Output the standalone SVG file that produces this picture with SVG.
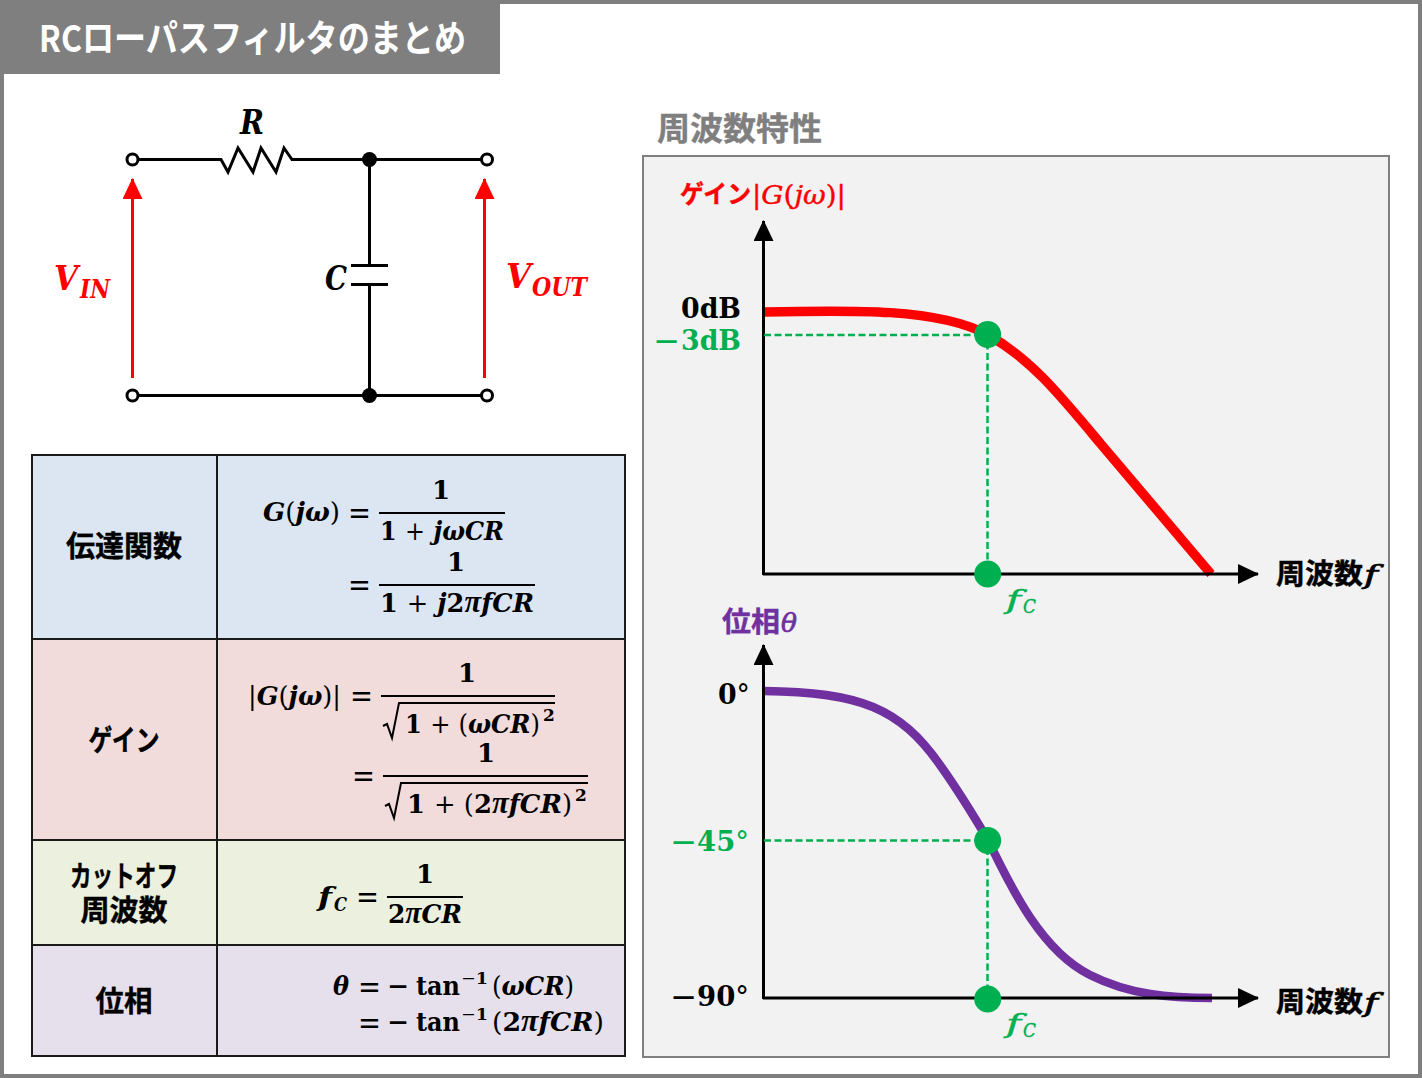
<svg xmlns="http://www.w3.org/2000/svg" width="1422" height="1078" viewBox="0 0 1422 1078">
<style>
.j{font-family:"Noto Sans CJK JP","Noto Sans",sans-serif;font-weight:700}
.h{stroke-width:.4px}
.m{font-family:"DejaVu Serif","Liberation Serif",serif;font-weight:700;font-size:26px}
.p{font-family:"Liberation Serif",serif;font-style:italic;font-size:31px}
.i{font-style:italic}
.o{font-weight:400}
.e{font-weight:400;font-size:31px}
.n{font-weight:400;font-size:36px}
.s{font-weight:400;font-style:italic;stroke-width:.4px}
.s2{font-weight:400;font-style:italic;stroke-width:.7px}
.w{stroke:#000;stroke-width:3;fill:none}
.t{stroke:#000;stroke-width:2;fill:none}
.g{stroke:#00b050;stroke-width:2.500;fill:none;stroke-dasharray:7 3.500}
.ax{stroke:#000;stroke-width:3;fill:none;marker-end:url(#ah)}
.ra{stroke:#f00;stroke-width:3;fill:none;marker-end:url(#ar)}
.c{font-family:"Noto Sans CJK JP",sans-serif;font-weight:700;font-size:29px;text-anchor:middle;stroke:#000;stroke-width:.4px}
.red{fill:#f00}.grn{fill:#00b050}.pur{fill:#7030a0}
</style>
<defs>
<marker id="ah" markerUnits="userSpaceOnUse" markerWidth="22" markerHeight="20" refX="20" refY="10" orient="auto"><path d="M0 0L21 10L0 20Z" fill="#000"/></marker>
<marker id="ar" markerUnits="userSpaceOnUse" markerWidth="22" markerHeight="20" refX="20" refY="10" orient="auto"><path d="M0 0L21 10L0 20Z" fill="#f00"/></marker>
</defs>
<rect width="1422" height="1078" fill="#fff"/>
<rect x="2" y="2" width="1418" height="1074" fill="#fff" stroke="#7f7f7f" stroke-width="4"/>
<g id="title"><rect x="0" y="0" width="500" height="74" fill="#7f7f7f"/>
<text class="j" x="39" y="52" font-size="37" fill="#fff" textLength="427" lengthAdjust="spacingAndGlyphs">RCローパスフィルタのまとめ</text></g>

<g id="circuit-wires">
<path class="w" d="M137 159.500H221L228 172L238 148L253 172L261 148L276 172L284 148L292 159.500H482M369.500 159.500V265.500M351 265.500H388M351 284.500H388M369.500 284.500V395.500M137 395.500H482"/>
<path class="ra" d="M132.500 378V179"/>
<path class="ra" d="M484.500 378V179"/>
</g>
<g id="n-t1"><circle cx="132.500" cy="159.500" r="5.500" fill="#fff" stroke="#000" stroke-width="3"/></g>
<g id="n-t2"><circle cx="487" cy="159.500" r="5.500" fill="#fff" stroke="#000" stroke-width="3"/></g>
<g id="n-t3"><circle cx="132.500" cy="395.500" r="5.500" fill="#fff" stroke="#000" stroke-width="3"/></g>
<g id="n-t4"><circle cx="487" cy="395.500" r="5.500" fill="#fff" stroke="#000" stroke-width="3"/></g>
<g id="n-j1"><circle cx="369.500" cy="159.500" r="7.500"/></g>
<g id="n-j2"><circle cx="369.500" cy="395.500" r="7.500"/></g>
<g id="circuit-labels">
<text class="m i" x="240" y="134" style="font-size:34px" textLength="24" lengthAdjust="spacingAndGlyphs">R</text>
<text class="m i" x="325" y="290" style="font-size:34px" textLength="22" lengthAdjust="spacingAndGlyphs">C</text>
<text class="m i red" x="54" y="290" style="font-size:34px" textLength="24" lengthAdjust="spacingAndGlyphs">V</text>
<text class="m i red" x="80" y="298" textLength="30" lengthAdjust="spacingAndGlyphs">IN</text>
<text class="m i red" x="506" y="288" style="font-size:34px" textLength="25" lengthAdjust="spacingAndGlyphs">V</text>
<text class="m i red" x="532" y="296" textLength="55" lengthAdjust="spacingAndGlyphs">OUT</text>
</g>

<g id="table">
<rect x="32" y="455" width="593" height="184" fill="#dce6f2"/>
<rect x="32" y="639" width="593" height="201" fill="#f2dcdb"/>
<rect x="32" y="840" width="593" height="105" fill="#ebf1de"/>
<rect x="32" y="945" width="593" height="111" fill="#e6e0ec"/>
<path d="M32 455H625V1056H32ZM217 455V1056M32 639H625M32 840H625M32 945H625" fill="none" stroke="#1a1a1a" stroke-width="2"/>
<text class="c" x="124" y="557" textLength="116" lengthAdjust="spacingAndGlyphs">伝達関数</text>
<text class="c" x="124" y="751" textLength="71" lengthAdjust="spacingAndGlyphs">ゲイン</text>
<text class="c" x="124" y="887" textLength="108" lengthAdjust="spacingAndGlyphs">カットオフ</text>
<text class="c" x="124" y="921" textLength="87" lengthAdjust="spacingAndGlyphs">周波数</text>
<text class="c" x="124" y="1012" textLength="57" lengthAdjust="spacingAndGlyphs">位相</text>
</g>
<g id="eq-transfer">
<text class="m" x="263" y="521" textLength="77" lengthAdjust="spacingAndGlyphs"><tspan class="i">G</tspan><tspan class="o">(</tspan><tspan class="i">jω</tspan><tspan class="o">)</tspan></text>
<text class="m e" x="348" y="524" textLength="23" lengthAdjust="spacingAndGlyphs">=</text>
<text class="m" x="441" y="499" text-anchor="middle">1</text>
<path class="t" d="M379 513H505M379 585H535M381 696H555M383 776H588M387 897H463"/>
<text class="m" x="380" y="540" textLength="124" lengthAdjust="spacingAndGlyphs">1 <tspan class="o">+</tspan> <tspan class="i">jωCR</tspan></text>
<text class="m e" x="348" y="596" textLength="23" lengthAdjust="spacingAndGlyphs">=</text>
<text class="m" x="456" y="571" text-anchor="middle">1</text>
<text class="m" x="380" y="612" textLength="154" lengthAdjust="spacingAndGlyphs">1 <tspan class="o">+</tspan> <tspan class="i">j</tspan>2<tspan class="p">π</tspan><tspan class="i">fCR</tspan></text>
</g>
<g id="eq-gain">
<text class="m" x="248" y="705" textLength="93" lengthAdjust="spacingAndGlyphs"><tspan class="o">|</tspan><tspan class="i">G</tspan><tspan class="o">(</tspan><tspan class="i">jω</tspan><tspan class="o">)|</tspan></text>
<text class="m e" x="350" y="707" textLength="23" lengthAdjust="spacingAndGlyphs">=</text>
<text class="m" x="467" y="682" text-anchor="middle">1</text>
<path class="t" d="M383 726L387 724L392 738L399 703H555"/>
<text class="m" x="405" y="733" textLength="135" lengthAdjust="spacingAndGlyphs">1 <tspan class="o">+ (</tspan><tspan class="i">ωCR</tspan><tspan class="o">)</tspan></text>
<text class="m" x="543" y="721" style="font-size:17px">2</text>
<text class="m e" x="352" y="787" textLength="23" lengthAdjust="spacingAndGlyphs">=</text>
<text class="m" x="486" y="762" text-anchor="middle">1</text>
<path class="t" d="M385 806L389 804L394 818L401 783H588"/>
<text class="m" x="407" y="813" textLength="165" lengthAdjust="spacingAndGlyphs">1 <tspan class="o">+ (</tspan>2<tspan class="p">π</tspan><tspan class="i">fCR</tspan><tspan class="o">)</tspan></text>
<text class="m" x="575" y="801" style="font-size:17px">2</text>
</g>
<g id="eq-cutoff">
<text class="m i" x="318" y="906" textLength="14" lengthAdjust="spacingAndGlyphs">f</text>
<text class="m i" x="334" y="911" style="font-size:19px" textLength="13" lengthAdjust="spacingAndGlyphs">C</text>
<text class="m e" x="356" y="908" textLength="23" lengthAdjust="spacingAndGlyphs">=</text>
<text class="m" x="425" y="883" text-anchor="middle">1</text>
<text class="m" x="388" y="923" textLength="74" lengthAdjust="spacingAndGlyphs">2<tspan class="p">π</tspan><tspan class="i">CR</tspan></text>
</g>
<g id="eq-phase">
<text class="m i" x="333" y="995" textLength="16" lengthAdjust="spacingAndGlyphs">θ</text>
<text class="m e" x="358" y="998" textLength="23" lengthAdjust="spacingAndGlyphs">=</text>
<text class="m n" x="387" y="998" textLength="22" lengthAdjust="spacingAndGlyphs">−</text>
<text class="m" x="416" y="995" textLength="44" lengthAdjust="spacingAndGlyphs">tan</text>
<text class="m" x="461" y="984" style="font-size:17px" textLength="27" lengthAdjust="spacingAndGlyphs"><tspan class="o">−</tspan>1</text>
<text class="m" x="492" y="995" textLength="82" lengthAdjust="spacingAndGlyphs"><tspan class="o">(</tspan><tspan class="i">ωCR</tspan><tspan class="o">)</tspan></text>
<text class="m e" x="358" y="1034" textLength="23" lengthAdjust="spacingAndGlyphs">=</text>
<text class="m n" x="387" y="1034" textLength="22" lengthAdjust="spacingAndGlyphs">−</text>
<text class="m" x="416" y="1031" textLength="44" lengthAdjust="spacingAndGlyphs">tan</text>
<text class="m" x="461" y="1020" style="font-size:17px" textLength="27" lengthAdjust="spacingAndGlyphs"><tspan class="o">−</tspan>1</text>
<text class="m" x="492" y="1031" textLength="112" lengthAdjust="spacingAndGlyphs"><tspan class="o">(</tspan>2<tspan class="p">π</tspan><tspan class="i">fCR</tspan><tspan class="o">)</tspan></text>
</g>

<g id="freq-panel">
<text class="j h" x="657" y="140" font-size="32" stroke="#7f7f7f" fill="#7f7f7f" textLength="165" lengthAdjust="spacingAndGlyphs">周波数特性</text>
<rect x="643" y="156" width="746" height="901" fill="#f2f2f2" stroke="#7f7f7f" stroke-width="2"/>
</g>
<g id="connectors">
<path d="M764 312C850 310 940 308 988 335C1030 358 1060 395 1100 443L1211 574" stroke="#f00" stroke-width="9.500" fill="none"/>
<path d="M764 691C860 692 900 708 940 765C960 793 975 818 988 840C1010 885 1040 950 1090 975C1130 995 1170 998 1212 998" stroke="#7030a0" stroke-width="8.500" fill="none"/>
<path class="ax" d="M763.500 575V221"/>
<path class="ax" d="M763 574H1258"/>
<path class="ax" d="M763.500 999V645"/>
<path class="ax" d="M763 998H1258"/>
<path class="g" d="M764 335H987.500V574M764 840.500H987.500V999"/>
</g>
<g id="pt-gain"><circle cx="987.700" cy="334.500" r="13.500" fill="#00b050"/></g>
<g id="pt-fc1"><circle cx="987.700" cy="574" r="13.500" fill="#00b050"/></g>
<g id="pt-phase"><circle cx="987.700" cy="840.500" r="13.500" fill="#00b050"/></g>
<g id="pt-fc2"><circle cx="987.700" cy="999" r="13.500" fill="#00b050"/></g>
<g id="graph-labels">
<text class="j h red" stroke="#f00" x="680" y="203" font-size="25" textLength="71" lengthAdjust="spacingAndGlyphs">ゲイン</text>
<text class="m red" x="752" y="204" style="font-weight:400;stroke:#f00;stroke-width:.4px" textLength="94" lengthAdjust="spacingAndGlyphs">|<tspan class="i">G</tspan>(<tspan class="i">jω</tspan>)|</text>
<text class="m" x="681" y="318" style="font-size:28px" textLength="60" lengthAdjust="spacingAndGlyphs">0dB</text>
<text class="m n grn" x="653" y="353" textLength="27" lengthAdjust="spacingAndGlyphs">−</text>
<text class="m grn" x="681" y="350" style="font-size:28px" textLength="60" lengthAdjust="spacingAndGlyphs">3dB</text>
<text class="m s grn" x="1006" y="609" style="stroke:#00b050" textLength="15" lengthAdjust="spacingAndGlyphs">f</text>
<text class="m s grn" x="1023" y="613" style="font-size:19px;stroke:#00b050" textLength="13" lengthAdjust="spacingAndGlyphs">C</text>
<text class="m s grn" x="1006" y="1033" style="stroke:#00b050" textLength="15" lengthAdjust="spacingAndGlyphs">f</text>
<text class="m s grn" x="1023" y="1037" style="font-size:19px;stroke:#00b050" textLength="13" lengthAdjust="spacingAndGlyphs">C</text>
<text class="j h" stroke="#000" x="1276" y="584" font-size="28" textLength="87" lengthAdjust="spacingAndGlyphs">周波数</text><text class="m s2" x="1364" y="584" style="stroke:#000" textLength="14" lengthAdjust="spacingAndGlyphs">f</text>
<text class="j h" stroke="#000" x="1276" y="1012" font-size="28" textLength="87" lengthAdjust="spacingAndGlyphs">周波数</text><text class="m s2" x="1364" y="1012" style="stroke:#000" textLength="14" lengthAdjust="spacingAndGlyphs">f</text>
<text class="j h pur" stroke="#7030a0" x="722" y="632" font-size="28" textLength="58" lengthAdjust="spacingAndGlyphs">位相</text><text class="m s2 pur" x="781" y="632" style="stroke:#7030a0" textLength="16" lengthAdjust="spacingAndGlyphs">θ</text>
<text class="m" x="718" y="704" style="font-size:28px" textLength="32" lengthAdjust="spacingAndGlyphs">0<tspan class="o">°</tspan></text>
<text class="m n grn" x="670" y="854" textLength="27" lengthAdjust="spacingAndGlyphs">−</text>
<text class="m grn" x="697" y="851" style="font-size:28px" textLength="52" lengthAdjust="spacingAndGlyphs">45<tspan class="o">°</tspan></text>
<text class="m n" x="670" y="1009" textLength="27" lengthAdjust="spacingAndGlyphs">−</text>
<text class="m" x="697" y="1006" style="font-size:28px" textLength="52" lengthAdjust="spacingAndGlyphs">90<tspan class="o">°</tspan></text>
</g>
</svg>
